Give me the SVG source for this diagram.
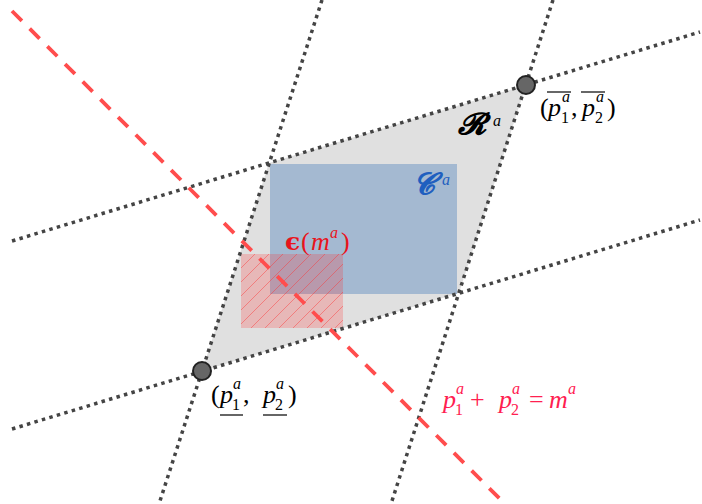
<svg xmlns="http://www.w3.org/2000/svg" width="702" height="504" viewBox="0 0 702 504">
  <style>
    .dot { fill: none; stroke: #444; stroke-width: 3.5; stroke-dasharray: 3.5 4.3; }
    .m { font-family: "Liberation Serif", "DejaVu Serif", serif; font-size: 26px; }
    .i { font-style: italic; }
    .s { font-size: 16px; }
    .bar { stroke: #000; stroke-width: 1.2; }
    .cal { font-family: "DejaVu Serif", "DejaVu Sans", "Noto Sans", serif; font-weight: bold; font-style: italic; }
  </style>
  <defs>
    <pattern id="hatch" patternUnits="userSpaceOnUse" width="14" height="14" x="241" y="254">
      <path d="M0,14 L14,0 M-3,3 L3,-3 M11,17 L17,11" stroke="#ff3030" stroke-width="0.8" stroke-opacity="0.55"/>
    </pattern>
  </defs>
  <rect width="702" height="504" fill="#fff"/>

  <g id="region-R">
    <polygon points="202,371 269,163 526,85 459,293" fill="#e0e0e0"/>
  </g>
  <g id="region-C">
    <rect x="270" y="164" width="187" height="130" fill="#a4b9d1"/>
  </g>
  <g id="region-eps">
    <rect x="241" y="254" width="102" height="74" fill="#ff2a2a" fill-opacity="0.22"/>
    <rect x="241" y="254" width="102" height="74" fill="url(#hatch)"/>
  </g>

  <g id="connectors">
    <line class="dot" x1="12" y1="241" x2="700" y2="32"/>
    <line class="dot" x1="12" y1="429" x2="700" y2="220"/>
    <line class="dot" x1="322" y1="0" x2="159" y2="504"/>
    <line class="dot" x1="553" y1="0" x2="391" y2="504"/>
    <line x1="12" y1="11" x2="506" y2="505" stroke="#ff4d4d" stroke-width="3.8" stroke-dasharray="14 11"/>
  </g>

  <g id="point-max">
    <circle cx="526" cy="85" r="9" fill="#666" stroke="#222" stroke-width="2"/>
    <text class="m" y="116"><tspan x="540">(</tspan><tspan x="548" class="i">p</tspan><tspan x="562" y="102" class="i s">a</tspan><tspan x="561" y="123" class="s">1</tspan><tspan x="571" y="116">,</tspan><tspan x="582" class="i">p</tspan><tspan x="596" y="102" class="i s">a</tspan><tspan x="595" y="123" class="s">2</tspan><tspan x="607" y="116">)</tspan></text>
    <line class="bar" x1="547" y1="92" x2="571" y2="92"/>
    <line class="bar" x1="581" y1="92" x2="605" y2="92"/>
  </g>

  <g id="point-min">
    <circle cx="202" cy="371" r="9" fill="#666" stroke="#222" stroke-width="2"/>
    <text class="m" y="403"><tspan x="211">(</tspan><tspan x="220" class="i">p</tspan><tspan x="233" y="389" class="i s">a</tspan><tspan x="232" y="410" class="s">1</tspan><tspan x="243" y="403">,</tspan><tspan x="263" class="i">p</tspan><tspan x="276" y="389" class="i s">a</tspan><tspan x="275" y="410" class="s">2</tspan><tspan x="288" y="403">)</tspan></text>
    <line class="bar" x1="220" y1="415" x2="243" y2="415"/>
    <line class="bar" x1="263" y1="415" x2="287" y2="415"/>
  </g>

  <g id="budget-label">
    <text class="m" y="408" fill="#ff2050"><tspan x="443" class="i">p</tspan><tspan x="456" y="394" class="i s">a</tspan><tspan x="455" y="415" class="s">1</tspan><tspan x="470" y="408">+</tspan><tspan x="499" class="i">p</tspan><tspan x="512" y="394" class="i s">a</tspan><tspan x="511" y="415" class="s">2</tspan><tspan x="529" y="408">=</tspan><tspan x="549" class="i">m</tspan><tspan x="568" y="394" class="i s">a</tspan></text>
  </g>

  <g id="eps-label">
    <text class="m" y="250" fill="#e8141c"><tspan x="285" font-family="DejaVu Serif" font-weight="bold" font-size="25">ϵ</tspan><tspan x="301">(</tspan><tspan x="311" class="i">m</tspan><tspan x="330" y="238" class="i s">a</tspan><tspan x="341" y="250">)</tspan></text>
  </g>

  <g id="C-label">
    <text y="194" fill="#1f5fbf"><tspan x="413" class="cal" font-size="30">𝓒</tspan><tspan x="442" y="185" class="m i s">a</tspan></text>
  </g>

  <g id="R-label">
    <text y="134" fill="#000"><tspan x="458" class="cal" font-size="30">𝓡</tspan><tspan x="493" y="126" class="m i s">a</tspan></text>
  </g>
</svg>
